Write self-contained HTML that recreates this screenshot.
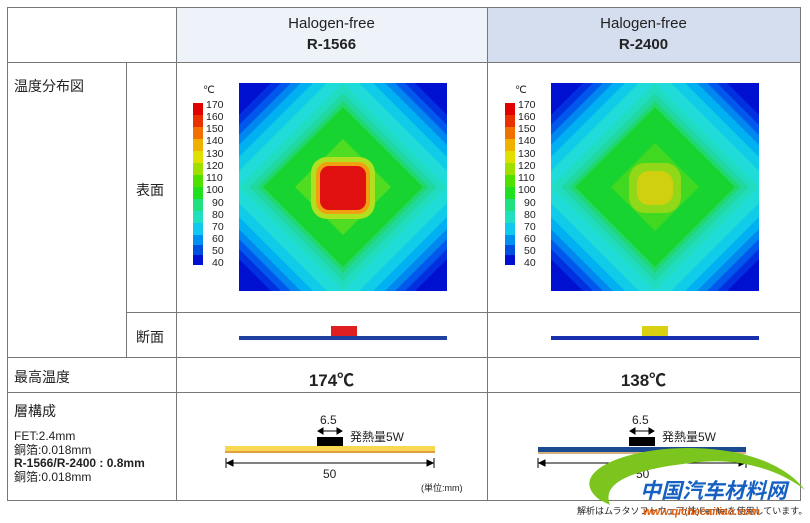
<!DOCTYPE html>
<html><head><meta charset="utf-8"><style>
body{margin:0;width:810px;height:523px;background:#fff;position:relative;overflow:hidden;font-family:"Liberation Sans","Noto Sans CJK JP",sans-serif;color:#222}
.a{position:absolute}
.l{position:absolute;background:#777}
</style></head><body>
<div class="a" style="left:176px;top:7px;width:311px;height:55px;background:#eef3fa"></div>
<div class="a" style="left:487px;top:7px;width:313px;height:55px;background:#d4deee"></div>
<div class="l" style="left:7px;top:7px;width:794px;height:1px"></div>
<div class="l" style="left:7px;top:62px;width:794px;height:1px"></div>
<div class="l" style="left:126px;top:312px;width:675px;height:1px"></div>
<div class="l" style="left:7px;top:357px;width:794px;height:1px"></div>
<div class="l" style="left:7px;top:392px;width:794px;height:1px"></div>
<div class="l" style="left:7px;top:500px;width:794px;height:1px"></div>
<div class="l" style="left:7px;top:7px;width:1px;height:494px"></div>
<div class="l" style="left:126px;top:62px;width:1px;height:295px"></div>
<div class="l" style="left:176px;top:7px;width:1px;height:494px"></div>
<div class="l" style="left:487px;top:7px;width:1px;height:494px"></div>
<div class="l" style="left:800px;top:7px;width:1px;height:494px"></div>

<div class="a" style="left:176px;top:13px;width:311px;text-align:center;font-size:15px;line-height:21px">Halogen-free<br><b>R-1566</b></div>
<div class="a" style="left:487px;top:13px;width:313px;text-align:center;font-size:15px;line-height:21px">Halogen-free<br><b>R-2400</b></div>
<div class="a" style="left:14px;top:76px;font-size:14px">温度分布図</div>
<div class="a" style="left:136px;top:180px;font-size:14px">表面</div>
<div class="a" style="left:136px;top:327px;font-size:14px">断面</div>
<div class="a" style="left:14px;top:367px;font-size:14px">最高温度</div>
<div class="a" style="left:176px;top:366px;width:311px;text-align:center;font-size:17px;font-weight:bold">174℃</div>
<div class="a" style="left:487px;top:366px;width:313px;text-align:center;font-size:17px;font-weight:bold">138℃</div>
<div class="a" style="left:14px;top:401px;font-size:14px">層構成</div>
<div class="a" style="left:14px;top:430px;font-size:12px;line-height:13.5px">FET:2.4mm<br>銅箔:0.018mm<br><b>R-1566/R-2400 : 0.8mm</b><br>銅箔:0.018mm</div>

<svg class="a" style="left:0;top:0" width="810" height="523">
<defs>
<clipPath id="c1"><rect width="208" height="208"/></clipPath>
<g id="base">
<rect width="208" height="208" fill="#0010d0"/>
<g clip-path="url(#c1)">
<polygon points="104,-72 280,104 104,280 -72,104" fill="#0030e0"/>
<polygon points="104,-62 270,104 104,270 -62,104" fill="#0058ec"/>
<polygon points="104,-52 260,104 104,260 -52,104" fill="#0088f0"/>
<polygon points="104,-42 250,104 104,250 -42,104" fill="#00b0f0"/>
<polygon points="104,-30 238,104 104,238 -30,104" fill="#10cce8"/>
<polygon points="104,-16 224,104 104,224 -16,104" fill="#20dcd8"/>
<polygon points="104,0 208,104 104,208 0,104" fill="#20dcc0"/>
<polygon points="104,10 198,104 104,198 10,104" fill="#20d8a0"/>
<polygon points="104,18 190,104 104,190 18,104" fill="#20d870"/>
<polygon points="104,24 184,104 104,184 24,104" fill="#18d430"/>
</g>
</g>
</defs>
<g transform="translate(239,83)">
<use href="#base"/>
<polygon points="104,56 152,104 104,152 56,104" fill="#50dc20"/>
<rect x="72" y="74" width="64" height="62" rx="16" fill="#b0e020"/>
<rect x="77" y="79" width="54" height="52" rx="12" fill="#f0a010"/>
<rect x="81" y="83" width="46" height="44" rx="9" fill="#e01010"/>
</g>
<g transform="translate(551,83)">
<use href="#base"/>
<polygon points="104,60 148,104 104,148 60,104" fill="#40d820"/>
<rect x="78" y="80" width="52" height="50" rx="16" fill="#90d818"/>
<rect x="86" y="88" width="36" height="34" rx="12" fill="#d0d010"/>
</g>
<g id="bar1" transform="translate(193,103)">
<rect y="0" width="10" height="12" fill="#e00000"/><rect y="12" width="10" height="12" fill="#e83000"/>
<rect y="24" width="10" height="12" fill="#f07000"/><rect y="36" width="10" height="12" fill="#f0b000"/>
<rect y="48" width="10" height="12" fill="#e0e000"/><rect y="60" width="10" height="12" fill="#a0e000"/>
<rect y="72" width="10" height="12" fill="#50e000"/><rect y="84" width="10" height="12" fill="#20e020"/>
<rect y="96" width="10" height="12" fill="#20e080"/><rect y="108" width="10" height="12" fill="#20e0c0"/>
<rect y="120" width="10" height="12" fill="#10c8f0"/><rect y="132" width="10" height="10" fill="#0090f0"/>
<rect y="142" width="10" height="10" fill="#0050e0"/><rect y="152" width="10" height="10" fill="#0010d0"/>
</g>
<use href="#bar1" x="312"/>
<g font-size="10.5" fill="#222" font-family="Liberation Sans,sans-serif">
<text x="203" y="93">℃</text><text x="515" y="93">℃</text>
<g id="lbl">
<text x="206" y="108">170</text><text x="206" y="120">160</text><text x="206" y="132">150</text><text x="206" y="144">140</text>
<text x="206" y="157">130</text><text x="206" y="169">120</text><text x="206" y="181">110</text><text x="206" y="193">100</text>
<text x="212" y="206">90</text><text x="212" y="218">80</text><text x="212" y="230">70</text><text x="212" y="242">60</text>
<text x="212" y="254">50</text><text x="212" y="266">40</text></g>
<use href="#lbl" x="312"/>
</g>
<rect x="239" y="336" width="208" height="4" fill="#2040a0"/>
<rect x="331" y="326" width="26" height="10" fill="#e02020"/>
<rect x="551" y="336" width="208" height="4" fill="#1830b0"/>
<rect x="642" y="326" width="26" height="10" fill="#d8d010"/>
<rect x="225" y="446" width="210" height="6" fill="#f8d850"/>
<rect x="225" y="451" width="210" height="2" fill="#e0a040"/>
<rect x="317" y="437" width="26" height="9" fill="#000"/>
<rect x="538" y="447" width="208" height="5" fill="#1a4a90"/>
<rect x="538" y="452" width="208" height="2" fill="#d8b080"/>
<rect x="629" y="437" width="26" height="9" fill="#000"/>
<g stroke="#000" stroke-width="1" fill="#000">
<line x1="226" y1="463" x2="434" y2="463"/><line x1="226" y1="458" x2="226" y2="468"/><line x1="434" y1="458" x2="434" y2="468"/>
<polygon points="227,463 233,460 233,466"/><polygon points="433,463 427,460 427,466"/>
<line x1="318" y1="431" x2="342" y2="431"/><polygon points="318,431 323,428 323,434"/><polygon points="342,431 337,428 337,434"/>
<line x1="538" y1="463" x2="746" y2="463"/><line x1="538" y1="458" x2="538" y2="468"/><line x1="746" y1="458" x2="746" y2="468"/>
<polygon points="539,463 545,460 545,466"/><polygon points="745,463 739,460 739,466"/>
<line x1="630" y1="431" x2="654" y2="431"/><polygon points="630,431 635,428 635,434"/><polygon points="654,431 649,428 649,434"/>
</g>
<g font-size="12" fill="#222" font-family="Liberation Sans,Noto Sans CJK JP,sans-serif">
<text x="320" y="424">6.5</text><text x="350" y="441">発熱量5W</text><text x="323" y="478">50</text>
<text x="421" y="491" font-size="9">(単位:mm)</text>
<text x="632" y="424">6.5</text><text x="662" y="441">発熱量5W</text><text x="636" y="478">50</text>
<text x="577" y="514" font-size="9">解析はムラタソフトウェア(株)Femtetを使用しています。</text>
</g>
<path d="M600,500 C560,470 640,440 720,450 C760,455 790,470 805,490 C780,470 740,458 700,462 C640,468 600,480 610,505 Z" fill="#7cc41e"/>
<text x="640" y="498" font-size="21" font-weight="bold" font-style="italic" fill="#1560c0" font-family="Noto Sans CJK SC,sans-serif">中国汽车材料网</text>
<text x="643" y="515" font-size="11" font-weight="bold" font-style="italic" fill="#e06010" font-family="Liberation Sans,sans-serif">www.qichecailiao.com</text>
</svg>
</body></html>
